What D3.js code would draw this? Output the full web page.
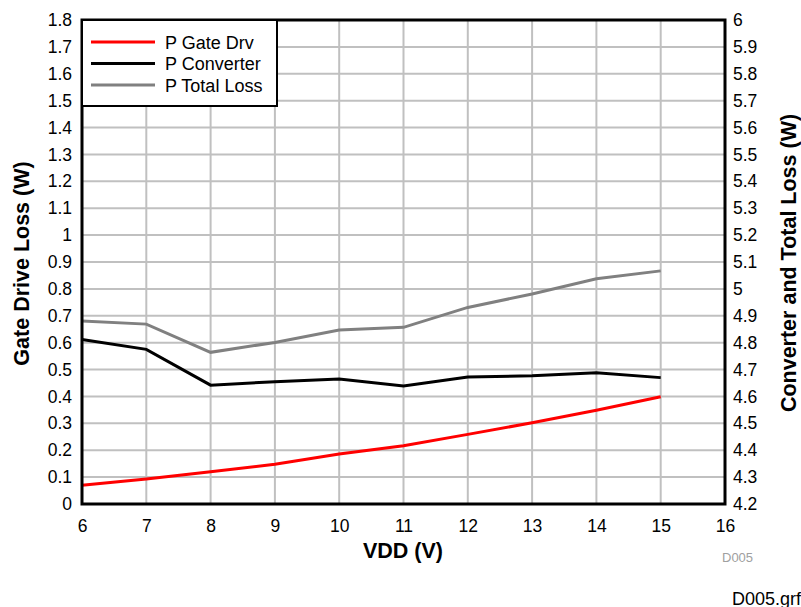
<!DOCTYPE html>
<html><head><meta charset="utf-8">
<script src="https://cdn.jsdelivr.net/npm/d3@7"></script>
<style>body{margin:0;background:#fff;}svg{display:block;font-family:"Liberation Sans",Arial,sans-serif;}</style>
</head><body><svg id="c" width="801" height="607"></svg>
<script>
const vdd = [6,7,8,9,10,11,12,13,14,15];
const gateDrv = [0.070,0.093,0.120,0.148,0.186,0.217,0.259,0.302,0.349,0.399];
const converter = [4.812,4.775,4.642,4.655,4.665,4.639,4.672,4.677,4.688,4.670];
const totalLoss = [4.881,4.869,4.764,4.801,4.847,4.857,4.931,4.981,5.038,5.067];
const xTicks = [6,7,8,9,10,11,12,13,14,15,16];
const yLeftTicks = d3.range(0,19).map(i=>+(i/10).toFixed(1));
const yRightTicks = d3.range(42,61).map(i=>+(i/10).toFixed(1));
const seriesNames = ["P Gate Drv","P Converter","P Total Loss"];
const seriesColors = ["#ff0000","#000000","#808080"];

const svg = d3.select("#c");
const L=82,R=725,T=20,B=504;
const x = d3.scaleLinear().domain([6,16]).range([L,R]);
const yL = d3.scaleLinear().domain([0,1.8]).range([B,T]);
const yR = d3.scaleLinear().domain([4.2,6]).range([B,T]);

// grid
const g = svg.append("g");
g.selectAll("line.v").data(xTicks).enter().append("line")
  .attr("x1",d=>x(d)).attr("x2",d=>x(d)).attr("y1",T).attr("y2",B)
  .attr("stroke","#c0c0c0").attr("stroke-width",2);
g.selectAll("line.h").data(yLeftTicks).enter().append("line")
  .attr("x1",L).attr("x2",R).attr("y1",d=>yL(d)).attr("y2",d=>yL(d))
  .attr("stroke","#c0c0c0").attr("stroke-width",2);

// lines
const lineL = d3.line().x((d,i)=>x(vdd[i])).y(d=>yL(d));
const lineR = d3.line().x((d,i)=>x(vdd[i])).y(d=>yR(d));
svg.append("path").attr("d",lineR(totalLoss)).attr("fill","none").attr("stroke",seriesColors[2]).attr("stroke-width",3);
svg.append("path").attr("d",lineR(converter)).attr("fill","none").attr("stroke",seriesColors[1]).attr("stroke-width",3);
svg.append("path").attr("d",lineL(gateDrv)).attr("fill","none").attr("stroke",seriesColors[0]).attr("stroke-width",3);

// frame
svg.append("rect").attr("x",L).attr("y",T).attr("width",R-L).attr("height",B-T)
  .attr("fill","none").attr("stroke","#000").attr("stroke-width",3);

// axes
const fs=17.5;
const axB = svg.append("g").attr("transform",`translate(0,${B})`)
  .call(d3.axisBottom(x).tickValues(xTicks).tickSize(0).tickPadding(15.5).tickFormat(d3.format("d")));
const axL = svg.append("g").attr("transform",`translate(${L},0)`)
  .call(d3.axisLeft(yL).tickValues(yLeftTicks).tickSize(0).tickPadding(10).tickFormat(d=>d3.format("")(d)));
const axR = svg.append("g").attr("transform",`translate(${R},0)`)
  .call(d3.axisRight(yR).tickValues(yRightTicks).tickSize(0).tickPadding(8).tickFormat(d=>d3.format("")(d)));
[axB,axL,axR].forEach(a=>{a.select(".domain").remove();a.selectAll("text").attr("font-size",fs).attr("fill","#000").attr("font-family","Liberation Sans, Arial, sans-serif");});

// titles
const tfs = 21.5;
svg.append("text").attr("x",403).attr("y",558).attr("text-anchor","middle")
  .attr("font-size",tfs).attr("font-weight","bold").text("VDD (V)");
svg.append("text").attr("transform",`translate(29,263.5) rotate(-90)`).attr("text-anchor","middle")
  .attr("font-size",tfs).attr("font-weight","bold").text("Gate Drive Loss (W)");
svg.append("text").attr("transform",`translate(796,263) rotate(-90)`).attr("text-anchor","middle")
  .attr("font-size",tfs).attr("font-weight","bold").text("Converter and Total Loss (W)");

// legend
const lg = svg.append("g");
lg.append("rect").attr("x",L).attr("y",T).attr("width",195).attr("height",86)
  .attr("fill","#fff").attr("stroke","#000").attr("stroke-width",2);
seriesNames.forEach((n,i)=>{
  const yy = T+22+i*21.5;
  lg.append("line").attr("x1",91).attr("x2",155).attr("y1",yy).attr("y2",yy)
    .attr("stroke",seriesColors[i]).attr("stroke-width",3);
  lg.append("text").attr("x",165).attr("y",yy+6.5).attr("font-size",18).text(n);
});

svg.append("text").attr("x",722).attr("y",561.5).attr("font-size",13).attr("fill","#a0a0a0").text("D005");
svg.append("text").attr("x",732).attr("y",605).attr("font-size",18).attr("fill","#000").text("D005.grf");
</script></body></html>
